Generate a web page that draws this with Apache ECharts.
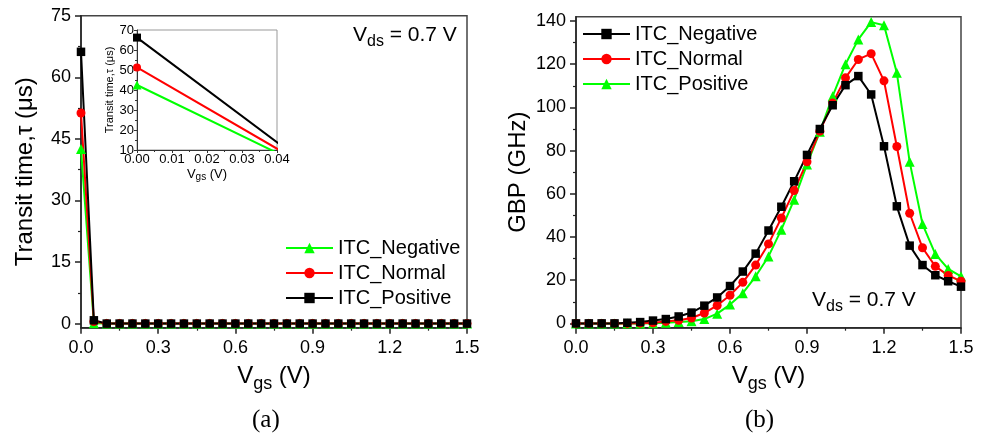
<!DOCTYPE html>
<html><head><meta charset="utf-8">
<script src="https://cdn.jsdelivr.net/npm/echarts@6/dist/echarts.min.js"></script>
<style>html,body{margin:0;padding:0;background:#fff}#c{width:985px;height:439px}</style>
</head><body><div id="c"></div>
<script>
// ---- data ----
const vgs = [0,0.05,0.1,0.15,0.2,0.25,0.3,0.35,0.4,0.45,0.5,0.55,0.6,0.65,0.7,0.75,0.8,0.85,0.9,0.95,1.0,1.05,1.1,1.15,1.2,1.25,1.3,1.35,1.4,1.45,1.5];
// (a) transit time (us)
const tauNegative = [42.5,0.1,0,0,0,0,0,0,0,0,0,0,0,0,0,0,0,0,0,0,0,0,0,0,0,0,0,0,0,0,0];
const tauNormal   = [51.3,0.5,0,0,0,0,0,0,0,0,0,0,0,0,0,0,0,0,0,0,0,0,0,0,0,0,0,0,0,0,0];
const tauPositive = [66.2,0.8,0,0,0,0,0,0,0,0,0,0,0,0,0,0,0,0,0,0,0,0,0,0,0,0,0,0,0,0,0];
// (b) GBP (GHz)
const gbpNegative = [0,0,0,0,0.3,0.6,1.3,2,3.2,5,8.2,12,17.3,24,32.3,43,54,65.8,78,90,101,110.3,114.5,106,82,54.2,36,27,22.3,19.5,17];
const gbpNormal   = [0,0,0,0,0,0.1,0.3,0.9,1.4,2.5,4.8,8.3,13,19,27,36.8,48.8,61.5,74.8,89,102,113.7,122.2,124.9,112.3,81.9,51,35,26.4,22.2,19.5];
const gbpPositive = [0,0,0,0,0,0,0.1,0.3,0.6,1,2,4.5,8.7,14,21.8,31,43.4,57.3,73.6,88.7,105.2,120,131.5,139.5,138,116,74.8,46,32.1,25.2,21.8];
// tick labels
const tauTicks = [0,15,30,45,60,75];
const tauMinor = [7.5,22.5,37.5,52.5,67.5];
const gbpTicks = [0,20,40,60,80,100,120,140];
const gbpMinor = [10,30,50,70,90,110,130];
const seriesNames = ['ITC_Negative','ITC_Normal','ITC_Positive'];

const FONT = 'Liberation Sans';
const GREEN = '#00ff00', RED = '#ff0000', BLACK = '#000000';
const pairs = arr => vgs.map((x,i)=>[x, arr[i]]);

const chart = echarts.init(document.getElementById('c'), null, {renderer:'canvas'});

const axLine = {show:true, onZero:false, lineStyle:{color:'#222', width:1.5}};
const vgsName = (big, small, pad) => ({
  name: '{v|V}{s|gs}{v| (V)}',
  nameLocation: 'middle',
  nameTextStyle: {rich: {
    v: {fontSize: big, fontFamily: FONT, color: '#000'},
    s: {fontSize: small, fontFamily: FONT, color: '#000', padding: [pad,0,0,0]}
  }}
});

function mainX(gi) {
  return Object.assign({
    type:'value', gridIndex: gi, min:0, max:1.5, interval:0.3,
    axisLine: axLine,
    axisTick: {show:true, length:6, lineStyle:{color:'#222', width:1.5}},
    minorTick: {show:true, splitNumber:2, length:3, lineStyle:{color:'#222', width:1.2}},
    splitLine: {show:false},
    axisLabel: {formatter: v=>v.toFixed(1), fontSize:18, fontFamily:FONT, color:'#000', margin:11},
    nameGap: 33
  }, vgsName(24, 18, 14));
}
function majorY(gi, min, max, ticks, name, gap) {
  return {
    type:'value', gridIndex: gi, min:min, max:max, position:'left',
    axisLine: axLine,
    axisTick: {show:true, length:6, customValues: ticks, lineStyle:{color:'#222', width:1.5}},
    axisLabel: {customValues: ticks, fontSize:18, fontFamily:FONT, color:'#000', margin:10},
    splitLine: {show:false},
    name: name, nameLocation:'middle', nameGap: gap,
    nameTextStyle: {fontSize:24, fontFamily:FONT, color:'#000'}
  };
}
function minorY(gi, min, max, ticks) {
  return {
    type:'value', gridIndex: gi, min:min, max:max, position:'left',
    axisLine: {show:false},
    axisTick: {show:true, length:3, customValues: ticks, lineStyle:{color:'#222', width:1.2}},
    axisLabel: {show:false},
    splitLine: {show:false}
  };
}

function lineSeries(name, xi, yi, data, color, symbol, size, extra) {
  return Object.assign({
    name: name, type:'line', xAxisIndex: xi, yAxisIndex: yi, data: data,
    symbol: symbol, symbolSize: size, showSymbol: true,
    lineStyle: {color: color, width: 2},
    itemStyle: {color: color},
    clip: true, z: 3
  }, extra || {});
}

const option = {
  animation: false,
  backgroundColor: '#fff',
  grid: [
    {left:81, top:15.7, width:386, height:312, show:true, borderColor:'#444', borderWidth:1.5, backgroundColor:'transparent'},
    {left:137, top:30, width:140, height:120, show:true, borderColor:'#999', borderWidth:1, backgroundColor:'#fff', z:5},
    {left:576, top:16.7, width:385, height:311, show:true, borderColor:'#444', borderWidth:1.5, backgroundColor:'transparent'}
  ],
  xAxis: [
    mainX(0),
    Object.assign({
      type:'value', gridIndex:1, min:0, max:0.04, interval:0.01,
      axisLine: {show:true, onZero:false, lineStyle:{color:'#333', width:1}},
      axisTick: {show:true, length:3, lineStyle:{color:'#333'}},
      minorTick: {show:true, splitNumber:2, length:2, lineStyle:{color:'#333'}},
      splitLine: {show:false},
      axisLabel: {formatter: v=>v.toFixed(2), fontSize:13, fontFamily:FONT, color:'#000', margin:3},
      nameGap: 16, z: 6
    }, vgsName(13, 10, 6)),
    mainX(2)
  ],
  yAxis: [
    majorY(0, -1, 75, tauTicks, 'Transit time,τ (μs)', 44),
    minorY(0, -1, 75, tauMinor),
    {
      type:'value', gridIndex:1, min:10, max:70, interval:10,
      axisLine: {show:true, onZero:false, lineStyle:{color:'#333', width:1}},
      axisTick: {show:true, length:3, lineStyle:{color:'#333'}},
      minorTick: {show:true, splitNumber:2, length:2, lineStyle:{color:'#333'}},
      splitLine: {show:false},
      axisLabel: {fontSize:13, fontFamily:FONT, color:'#000', margin:3},
      name: 'Transit time,τ (μs)', nameLocation:'middle', nameGap:21,
      nameTextStyle: {fontSize:11, fontFamily:FONT, color:'#000'}, z: 6
    },
    majorY(2, -2, 142, gbpTicks, 'GBP (GHz)', 46),
    minorY(2, -2, 142, gbpMinor)
  ],
  legend: [
    {
      orient:'vertical', left:285, top:238, padding:0, itemWidth:47, itemHeight:13, itemGap:5,
      textStyle:{fontSize:20, fontFamily:FONT, color:'#000'},
      data: seriesNames.map(n=>n+'|a'),
      formatter: n=>n.split('|')[0], selectedMode:false
    },
    {
      orient:'vertical', left:582, top:24, padding:0, itemWidth:47, itemHeight:13, itemGap:5,
      textStyle:{fontSize:20, fontFamily:FONT, color:'#000'},
      data: seriesNames.map(n=>n+'|b'),
      formatter: n=>n.split('|')[0], selectedMode:false
    }
  ],
  series: [
    lineSeries('ITC_Negative|a', 0, 0, pairs(tauNegative), GREEN, 'triangle', 10),
    lineSeries('ITC_Normal|a',   0, 0, pairs(tauNormal),   RED,   'circle', 9),
    lineSeries('ITC_Positive|a', 0, 0, pairs(tauPositive), BLACK, 'rect', 8.5),
    lineSeries('inset_neg', 1, 2, pairs(tauNegative), GREEN, 'triangle', 9, {z:7, silent:true}),
    lineSeries('inset_nor', 1, 2, pairs(tauNormal),   RED,   'circle', 8, {z:7, silent:true}),
    lineSeries('inset_pos', 1, 2, pairs(tauPositive), BLACK, 'rect', 8, {z:7, silent:true}),
    lineSeries('ITC_Positive|b', 2, 3, pairs(gbpPositive), GREEN, 'triangle', 10),
    lineSeries('ITC_Normal|b',   2, 3, pairs(gbpNormal),   RED,   'circle', 9),
    lineSeries('ITC_Negative|b', 2, 3, pairs(gbpNegative), BLACK, 'rect', 8.5)
  ],
  graphic: [
    {type:'text', left:353, top:25, z:10, style:{
      text:'{v|V}{s|ds}{v| = 0.7 V}', fill:'#000',
      rich:{v:{fontSize:21, fontFamily:FONT, fill:'#000'}, s:{fontSize:16, fontFamily:FONT, fill:'#000', padding:[13,0,0,0]}}
    }},
    {type:'text', left:812, top:290, z:10, style:{
      text:'{v|V}{s|ds}{v| = 0.7 V}', fill:'#000',
      rich:{v:{fontSize:21, fontFamily:FONT, fill:'#000'}, s:{fontSize:16, fontFamily:FONT, fill:'#000', padding:[13,0,0,0]}}
    }},
    {type:'text', left:252, top:408, z:10, style:{text:'(a)', fontSize:25, fontFamily:'Liberation Serif', fill:'#000'}},
    {type:'text', left:745, top:408, z:10, style:{text:'(b)', fontSize:25, fontFamily:'Liberation Serif', fill:'#000'}}
  ]
};
chart.setOption(option);
</script>
</body></html>
